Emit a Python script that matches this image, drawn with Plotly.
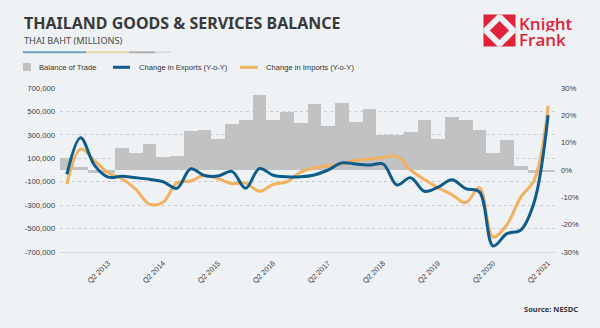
import plotly.graph_objects as go

# Quarterly categories, Q3 2012 - Q2 2021
quarters = [
    "Q3 2012", "Q4 2012",
    "Q1 2013", "Q2 2013", "Q3 2013", "Q4 2013",
    "Q1 2014", "Q2 2014", "Q3 2014", "Q4 2014",
    "Q1 2015", "Q2 2015", "Q3 2015", "Q4 2015",
    "Q1 2016", "Q2 2016", "Q3 2016", "Q4 2016",
    "Q1 2017", "Q2 2017", "Q3 2017", "Q4 2017",
    "Q1 2018", "Q2 2018", "Q3 2018", "Q4 2018",
    "Q1 2019", "Q2 2019", "Q3 2019", "Q4 2019",
    "Q1 2020", "Q2 2020", "Q3 2020", "Q4 2020",
    "Q1 2021", "Q2 2021",
]

# Balance of trade, THB millions
balance = [
    99000, 28000, -25000, -25000, 184000, 147000,
    220000, 113000, 119000, 330000, 339000, 265000,
    396000, 430000, 644000, 424000, 497000, 401000,
    565000, 373000, 571000, 412000, 525000, 297000,
    297000, 325000, 427000, 263000, 452000, 430000,
    345000, 141000, 254000, 34000, -25000, -20000,
]

# Year-on-year change, %
exports_yoy = [
    -1.6, 11.8, 1.8, -2.6, -2.3, -2.8,
    -3.4, -4.3, -6.7, 0.4, -2.0, -2.2,
    -0.5, -6.7, 0.5, -1.9, -2.5, -2.5,
    -1.8, 0.0, 2.6, 2.2, 1.8, 2.2,
    -5.5, -2.8, -7.8, -6.3, -3.6, -6.8,
    -8.0, -27.8, -23.3, -22.0, -11.5, 20.1,
]
imports_yoy = [
    -5.2, 7.7, 3.5, -1.0, -3.2, -7.0,
    -12.5, -11.8, -4.7, -4.0, -2.0, -3.2,
    -5.0, -4.8, -7.8, -5.3, -4.3, -0.8,
    0.8, 1.5, 2.2, 3.6, 4.0, 4.6,
    5.0, 0.0, -3.5, -6.5, -9.0, -12.0,
    -6.5, -24.5, -20.0, -10.0, -3.5, 23.4,
]

x_ticks = ["Q2 2013", "Q2 2014", "Q2 2015", "Q2 2016", "Q2 2017",
           "Q2 2018", "Q2 2019", "Q2 2020", "Q2 2021"]
left_ticks = [700000, 500000, 300000, 100000, -100000, -300000, -500000, -700000]
left_labels = ["700,000", "500,000", "300,000", "100,000",
               "-100,000", "-300,000", "-500,000", "-700,000"]
right_ticks = [30, 20, 10, 0, -10, -20, -30]
right_labels = ["30%", "20%", "10%", "0%", "-10%", "-20%", "-30%"]

BG = "#eef2f4"
BAR = "#c2c2c2"
BLUE = "#0f5b8a"
ORANGE = "#f0b161"
RED = "#e0223a"
W, H = 600, 328
ML, MR, MT, MB = 60, 45, 88, 76
PW, PH = W - ML - MR, H - MT - MB


def px(x):
    return (x - ML) / PW


def py(y):
    return (H - MB - y) / PH


fig = go.Figure()
fig.add_trace(go.Bar(x=quarters, y=balance, marker=dict(color=BAR, line=dict(width=0)),
                     name="Balance of Trade", showlegend=False))
fig.add_trace(go.Scatter(x=quarters, y=imports_yoy, yaxis="y2", mode="lines",
                         line=dict(color=ORANGE, width=3, shape="spline", smoothing=1.0),
                         name="Change in Imports (Y-o-Y)", showlegend=False))
fig.add_trace(go.Scatter(x=quarters, y=exports_yoy, yaxis="y2", mode="lines",
                         line=dict(color=BLUE, width=3, shape="spline", smoothing=1.0),
                         name="Change in Exports (Y-o-Y)", showlegend=False))

tick_font = dict(family="Liberation Sans, Arial, sans-serif", size=7.7, color="#3c3c3c")

fig.update_layout(
    width=W, height=H,
    margin=dict(l=ML, r=MR, t=MT, b=MB, pad=0),
    paper_bgcolor=BG, plot_bgcolor=BG,
    bargap=0,
    xaxis=dict(type="category", range=[-0.5, len(quarters) - 0.5],
               tickmode="array", tickvals=x_ticks, ticktext=x_ticks,
               tickangle=-45, tickfont=dict(family="Liberation Sans, Arial, sans-serif",
                                            size=7.4, color="#3c3c3c"),
               showgrid=False, showline=True, linecolor="#d3d6d8", linewidth=1,
               ticks="", zeroline=False, ticklabelstandoff=3),
    yaxis=dict(range=[-700000, 700000], tickmode="array", tickvals=left_ticks,
               ticktext=left_labels, tickfont=tick_font, showgrid=True,
               gridcolor="#c9cccf", griddash="dot", gridwidth=1, zeroline=False,
               showline=False, ticks="", ticklabelstandoff=4),
    yaxis2=dict(range=[-30, 30], overlaying="y", side="right", tickmode="array",
                tickvals=right_ticks, ticktext=right_labels, tickfont=tick_font,
                showgrid=False, zeroline=False, showline=False, ticks="",
                ticklabelstandoff=5),
)

shapes = []
annotations = []

# Header
annotations.append(dict(xref="paper", yref="paper", x=px(22), y=py(23), xanchor="left",
                        yanchor="middle", showarrow=False,
                        text="<b>THAILAND GOODS &amp; SERVICES BALANCE</b>",
                        font=dict(family="Noto Sans, sans-serif", size=16, color="#3a3a3a")))
annotations.append(dict(xref="paper", yref="paper", x=px(22), y=py(41), xanchor="left",
                        yanchor="middle", showarrow=False, text="THAI BAHT (MILLIONS)",
                        font=dict(family="Noto Sans, sans-serif", size=9.2, color="#4a4a4a")))
for x0, x1, c in [(23, 86, "#6fa2bf"), (86, 129, "#e9d4a4"), (129, 155, "#b0b0b0"),
                  (155, 171, "#dcdcdc")]:
    shapes.append(dict(type="line", xref="paper", yref="paper", x0=px(x0), x1=px(x1),
                       y0=py(52.3), y1=py(52.3), line=dict(color=c, width=2)))

# Legend
leg_font = dict(family="Liberation Sans, Arial, sans-serif", size=7.6, color="#333333")
shapes.append(dict(type="rect", xref="paper", yref="paper", x0=px(23), x1=px(31),
                   y0=py(71), y1=py(63), fillcolor=BAR, line=dict(width=0)))
annotations.append(dict(xref="paper", yref="paper", x=px(37), y=py(67), xanchor="left",
                        yanchor="middle", showarrow=False, text="Balance of Trade", font=leg_font))
shapes.append(dict(type="line", xref="paper", yref="paper", x0=px(113), x1=px(130),
                   y0=py(67.3), y1=py(67.3), line=dict(color=BLUE, width=3)))
annotations.append(dict(xref="paper", yref="paper", x=px(137), y=py(67), xanchor="left",
                        yanchor="middle", showarrow=False, text="Change in Exports (Y-o-Y)",
                        font=leg_font))
shapes.append(dict(type="line", xref="paper", yref="paper", x0=px(240), x1=px(258),
                   y0=py(67.3), y1=py(67.3), line=dict(color=ORANGE, width=3)))
annotations.append(dict(xref="paper", yref="paper", x=px(263.5), y=py(67), xanchor="left",
                        yanchor="middle", showarrow=False, text="Change in Imports (Y-o-Y)",
                        font=leg_font))

# Source
annotations.append(dict(xref="paper", yref="paper", x=px(580), y=py(309), xanchor="right",
                        yanchor="middle", showarrow=False, text="<b>Source: NESDC</b>",
                        font=dict(family="Noto Sans, sans-serif", size=7.5, color="#333333")))

# Logo mark: red square with a white diamond band
lx0, ly0, s = 483.5, 14.5, 32.0


def lp(u, v):
    return f"{px(lx0 + u * s):.5f},{py(ly0 + v * s):.5f}"


def poly(pts):
    return "M " + " L ".join(lp(u, v) for u, v in pts) + " Z"


d = 0.06
r = 0.30
shapes.append(dict(type="path", xref="paper", yref="paper",
                   path=poly([(0, 0), (1, 0), (1, 1), (0, 1)]), fillcolor=RED, line=dict(width=0)))
shapes.append(dict(type="path", xref="paper", yref="paper",
                   path=poly([(0.5 - d, 0), (0.5 + d, 0), (1, 0.5 - d), (1, 0.5 + d),
                              (0.5 + d, 1), (0.5 - d, 1), (0, 0.5 + d), (0, 0.5 - d)]),
                   fillcolor=BG, line=dict(width=0)))
shapes.append(dict(type="path", xref="paper", yref="paper",
                   path=poly([(0.5, 0.5 - r), (0.5 + r, 0.5), (0.5, 0.5 + r), (0.5 - r, 0.5)]),
                   fillcolor=RED, line=dict(width=0)))

# Wordmark: two stacked lines, each in its own compact box
logo_font = dict(family="Open Sans, sans-serif", size=17, color=RED, weight=600)
annotations.append(dict(xref="paper", yref="paper", x=px(518), y=py(15.0), xanchor="left",
                        yanchor="top", showarrow=False, text="Knight", font=logo_font,
                        height=15.5, valign="middle", borderpad=0))
annotations.append(dict(xref="paper", yref="paper", x=px(518), y=py(30.5), xanchor="left",
                        yanchor="top", showarrow=False, text="Frank", font=logo_font,
                        height=15.5, valign="middle", borderpad=0))

fig.update_layout(shapes=shapes, annotations=annotations)
fig.write_html("out.html")
